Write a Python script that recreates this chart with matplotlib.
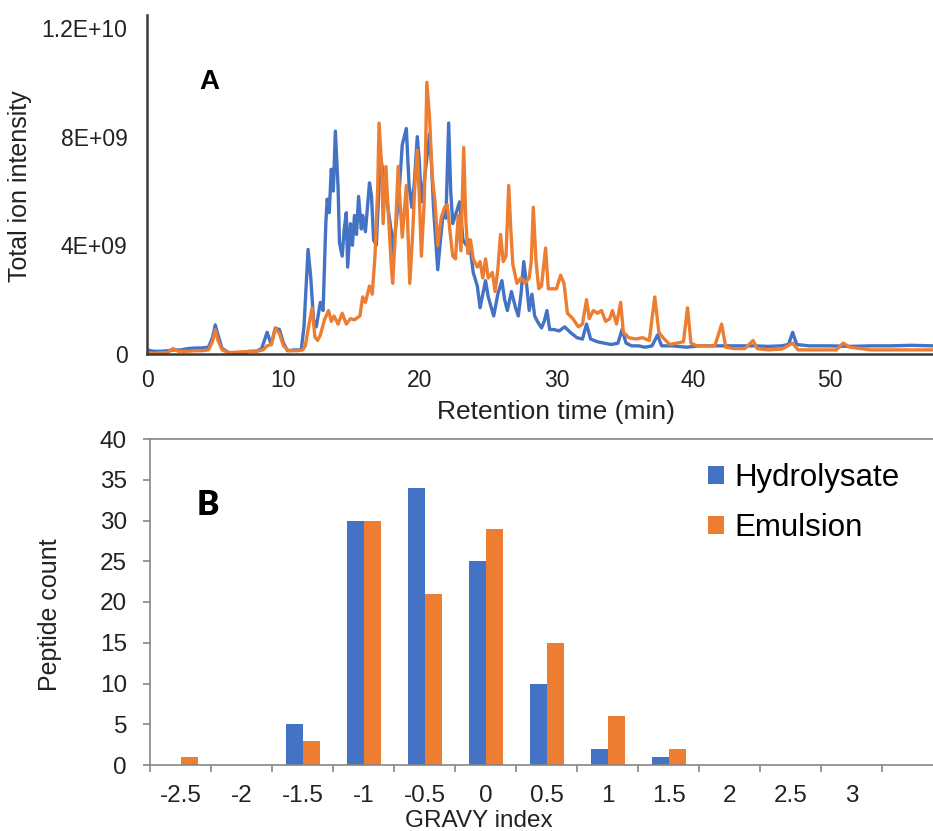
import numpy as np
import matplotlib
matplotlib.use("Agg")
import matplotlib.pyplot as plt
from matplotlib.ticker import FixedLocator, NullFormatter

# ---------------- Panel A data (retention time in min, intensity in 1E9 units) ----------------
hyd_time = [0.0, 0.5, 1.0, 1.5, 2.0, 2.5, 3.0, 3.5, 4.0, 4.5, 4.8, 5.0, 5.2, 5.5, 6.0, 6.5, 7.0, 7.5,
            8.0, 8.4, 8.8, 9.1, 9.4, 9.7, 10.0, 10.3, 10.8, 11.3, 11.5, 11.8, 12.0, 12.2, 12.4, 12.7,
            12.9, 13.1, 13.2, 13.35, 13.5, 13.65, 13.8, 14.0, 14.1, 14.3, 14.45, 14.6, 14.7, 14.9,
            15.05, 15.2, 15.35, 15.5, 15.7, 15.8, 16.0, 16.2, 16.3, 16.45, 16.6, 16.8, 17.1, 17.35,
            17.7, 17.9, 18.0, 18.25, 18.5, 18.7, 19.0, 19.2, 19.4, 19.6, 19.8, 19.95, 20.1, 20.3,
            20.5, 20.7, 20.85, 21.0, 21.3, 21.5, 21.7, 21.9, 22.1, 22.25, 22.4, 22.65, 22.9, 23.15,
            23.4, 23.6, 23.9, 24.2, 24.4, 24.8, 25.0, 25.4, 25.7, 26.0, 26.2, 26.4, 26.7, 27.0,
            27.2, 27.4, 27.6, 27.8, 28.0, 28.2, 28.4, 28.6, 28.9, 29.1, 29.3, 29.5, 29.8, 30.2,
            30.6, 31.0, 31.5, 31.9, 32.2, 32.5, 33.0, 33.5, 34.0, 34.5, 34.8, 35.1, 35.5, 36.0,
            36.5, 37.0, 37.4, 37.7, 38.5, 39.5, 40.5, 41.5, 42.5, 43.5, 44.5, 45.5, 46.5, 47.0,
            47.3, 47.6, 48.5, 50.0, 51.5, 53.0, 54.5, 56.0, 57.6]
hyd_int = [0.15, 0.1, 0.1, 0.12, 0.15, 0.15, 0.2, 0.22, 0.22, 0.25, 0.6, 1.07, 0.7, 0.2, 0.05, 0.05, 0.05, 0.1,
           0.1, 0.2, 0.8, 0.35, 0.95, 0.9, 0.4, 0.12, 0.15, 0.15, 1.0, 3.85, 2.8, 1.26, 1.0, 1.9,
           1.6, 4.8, 5.7, 5.2, 6.8, 6.0, 8.2, 6.1, 4.1, 3.6, 4.6, 5.2, 3.2, 4.8,
           4.0, 5.1, 4.4, 5.8, 4.6, 5.1, 4.5, 5.7, 6.3, 5.8, 4.2, 4.0, 7.3, 6.5,
           5.2, 4.5, 3.7, 4.8, 6.2, 7.7, 8.3, 6.2, 5.4, 6.4, 8.0, 7.1, 5.6, 6.3,
           7.2, 8.1, 6.9, 5.3, 3.1, 4.2, 5.2, 5.0, 8.5, 6.0, 4.8, 5.2, 5.6, 4.2,
           4.0, 4.2, 3.0, 2.5, 1.7, 2.7, 2.1, 1.4, 2.2, 2.7, 2.0, 1.6, 2.3, 1.7,
           1.4, 2.2, 3.4, 2.6, 1.6, 2.2, 1.4, 1.2, 0.96, 1.2, 1.6, 0.9, 0.9, 0.85,
           1.0, 0.8, 0.6, 0.55, 1.1, 0.55, 0.45, 0.4, 0.35, 0.4, 0.9, 0.4, 0.3, 0.3,
           0.25, 0.3, 0.7, 0.3, 0.3, 0.25, 0.3, 0.3, 0.3, 0.3, 0.3, 0.28, 0.3, 0.35,
           0.8, 0.35, 0.3, 0.3, 0.28, 0.3, 0.3, 0.32, 0.3]

emu_time = [0.0, 0.5, 1.0, 1.5, 1.9, 2.3, 3.0, 3.5, 4.0, 4.5, 4.8, 5.0, 5.2, 5.5, 6.0, 7.0, 8.0, 8.5,
            8.8, 9.1, 9.4, 9.7, 10.0, 10.4, 11.0, 11.4, 11.6, 11.8, 12.1, 12.3, 12.5, 12.7, 13.0,
            13.3, 13.5, 13.7, 14.0, 14.3, 14.6, 14.9, 15.2, 15.6, 15.8, 16.0, 16.3, 16.5, 16.7,
            16.9, 17.0, 17.2, 17.3, 17.5, 17.7, 17.9, 18.0, 18.2, 18.4, 18.55, 18.7, 19.0, 19.15,
            19.25, 19.45, 19.6, 19.8, 19.95, 20.1, 20.3, 20.4, 20.5, 20.7, 20.9, 21.1, 21.3, 21.55,
            21.8, 22.0, 22.2, 22.4, 22.6, 22.8, 23.0, 23.2, 23.35, 23.5, 23.7, 23.9, 24.2, 24.4,
            24.6, 24.8, 25.0, 25.3, 25.5, 25.7, 25.9, 26.1, 26.3, 26.5, 26.65, 26.8, 27.1, 27.4,
            27.7, 28.0, 28.15, 28.3, 28.5, 28.7, 28.9, 29.2, 29.4, 29.7, 30.0, 30.3, 30.55, 30.8,
            31.2, 31.6, 31.9, 32.2, 32.4, 32.7, 33.0, 33.3, 33.6, 33.9, 34.1, 34.4, 34.7, 34.9,
            35.3, 35.8, 36.3, 36.8, 37.2, 37.5, 37.8, 38.3, 38.8, 39.3, 39.6, 39.85, 40.3, 41.0,
            41.6, 42.1, 42.4, 43.0, 43.8, 44.4, 44.7, 45.5, 46.5, 47.3, 47.7, 49.0, 50.5, 51.0,
            51.5, 53.0, 55.0, 57.6]
emu_int = [0.05, 0.02, 0.05, 0.05, 0.2, 0.1, 0.1, 0.12, 0.12, 0.15, 0.45, 0.89, 0.5, 0.15, 0.05, 0.08, 0.1, 0.15,
           0.3, 0.35, 0.96, 0.75, 0.3, 0.12, 0.12, 0.15, 0.3, 0.9, 1.7, 0.63, 0.5, 0.7, 1.26,
           1.6, 1.2, 1.4, 1.1, 1.5, 1.1, 1.3, 1.26, 1.4, 2.1, 1.9, 2.5, 2.2, 3.6,
           6.1, 8.5, 6.8, 4.8, 6.9, 5.0, 3.2, 2.6, 4.5, 6.9, 5.5, 4.3, 6.2, 4.0,
           2.6, 4.3, 6.0, 7.5, 5.8, 3.6, 5.5, 7.3, 10.0, 8.7, 6.5, 5.6, 4.0, 5.0,
           5.4, 5.5, 4.5, 3.6, 3.5, 5.1, 3.8, 7.6, 5.0, 3.7, 4.2, 3.5, 3.2, 3.4,
           2.8, 3.5, 2.8, 3.0, 2.3, 3.1, 4.4, 3.4, 3.6, 6.2, 4.6, 3.3, 2.6, 2.8,
           2.6, 2.8, 3.4, 5.4, 3.4, 2.4, 2.5, 3.9, 2.4, 2.4, 2.4, 2.9, 2.6, 1.5,
           1.3, 1.0, 1.1, 2.0, 1.3, 1.6, 1.5, 1.6, 1.2, 1.3, 1.6, 1.1, 1.9, 0.8,
           0.6, 0.55, 0.6, 0.5, 2.1, 0.8, 0.6, 0.35, 0.4, 0.45, 1.7, 0.4, 0.3, 0.3,
           0.3, 1.1, 0.25, 0.2, 0.2, 0.5, 0.2, 0.15, 0.18, 0.4, 0.15, 0.15, 0.15, 0.4,
           0.25, 0.15, 0.15, 0.15]

a_yticks = [0, 4e9, 8e9, 1.2e10]
a_yticklabels = ["0", "4E+09", "8E+09", "1.2E+10"]
a_xticks = [0, 10, 20, 30, 40, 50]

# ---------------- Panel B data ----------------
gravy_labels = ["-2.5", "-2", "-1.5", "-1", "-0.5", "0", "0.5", "1", "1.5", "2", "2.5", "3"]
hydrolysate_counts = [0, 0, 5, 30, 34, 25, 10, 2, 1, 0, 0, 0]
emulsion_counts = [1, 0, 3, 30, 21, 29, 15, 6, 2, 0, 0, 0]
b_yticks = [0, 5, 10, 15, 20, 25, 30, 35, 40]

BLUE = "#4472C4"
ORANGE = "#ED7D31"
W, H = 933, 831

plt.rcParams["font.family"] = ["Liberation Sans", "DejaVu Sans"]

fig = plt.figure(figsize=(W / 100, H / 100), dpi=100)

# ---------------- Panel A ----------------
axA = fig.add_axes([147 / W, 1 - 354 / H, (W - 147) / W, (354 - 15) / H])
axA.plot(hyd_time, np.array(hyd_int) * 1e9, color=BLUE, lw=2.4, solid_joinstyle="round")
axA.plot(emu_time, np.array(emu_int) * 1e9, color=ORANGE, lw=2.4, solid_joinstyle="round")
axA.set_xlim(0, (W - 147) / 13.65)
axA.set_ylim(0, (354 - 15) / 27.17 * 1e9)
axA.set_yticks(a_yticks)
axA.set_yticklabels(a_yticklabels)
axA.set_xticks(a_xticks)
axA.tick_params(axis="both", length=0, labelsize=16.5, colors="#222222")
axA.tick_params(axis="y", pad=14)
axA.tick_params(axis="x", pad=11)
for s in ["top", "right"]:
    axA.spines[s].set_visible(False)
for s in ["left", "bottom"]:
    axA.spines[s].set_color("#3a3a3a")
    axA.spines[s].set_linewidth(1.8)
axA.set_xlabel("Retention time (min)", fontsize=19, color="#222222")
axA.xaxis.set_label_coords((556 - 147) / (W - 147), -(412 - 354) / (354 - 15))
axA.xaxis.label.set_va("center")
axA.set_ylabel("Total ion intensity", fontsize=18, color="#222222")
axA.yaxis.set_label_coords((20 - 147) / (W - 147), (354 - 186) / (354 - 15))
axA.yaxis.label.set_va("center")
fig.text(209 / W, 1 - 82 / H, "A", fontsize=20, fontweight="bold", ha="center", va="center",
         family=["Liberation Sans", "DejaVu Sans"])

# ---------------- Panel B ----------------
axB = fig.add_axes([150 / W, 1 - 765 / H, (W - 150) / W, (765 - 439) / H])
x = np.arange(len(gravy_labels))
bw = 17 / 61
axB.bar(x - bw / 2, hydrolysate_counts, width=bw, color=BLUE, label="Hydrolysate")
axB.bar(x + bw / 2, emulsion_counts, width=bw, color=ORANGE, label="Emulsion")
axB.set_xlim(-0.5, (W - 150) / 61 - 0.5)
axB.set_ylim(0, 40)
axB.set_yticks(b_yticks)
axB.xaxis.set_major_locator(FixedLocator(np.arange(len(gravy_labels) + 1) - 0.5))
axB.xaxis.set_major_formatter(NullFormatter())
axB.xaxis.set_minor_locator(FixedLocator(x))
axB.set_xticklabels(gravy_labels, minor=True)
axB.tick_params(axis="x", which="major", length=5, width=1.2, color="#868686", direction="out")
axB.tick_params(axis="x", which="minor", length=0, labelsize=17.5, pad=14.5, colors="#222222")
axB.tick_params(axis="y", length=5, width=1.2, color="#868686", labelsize=17.5, pad=11.5,
                labelcolor="#222222")
axB.spines["right"].set_visible(False)
for s in ["left", "bottom", "top"]:
    axB.spines[s].set_color("#868686")
    axB.spines[s].set_linewidth(1.2)
axB.set_xlabel("GRAVY index", fontsize=17.5, color="#222222")
axB.xaxis.set_label_coords((479 - 150) / (W - 150), -(821 - 765) / (765 - 439))
axB.xaxis.label.set_va("center")
axB.set_ylabel("Peptide count", fontsize=18, color="#222222")
axB.yaxis.set_label_coords((50 - 150) / (W - 150), (765 - 615) / (765 - 439))
axB.yaxis.label.set_va("center")
fig.text(208 / W, 1 - 505 / H, "B", fontsize=24, fontweight="heavy", ha="center", va="center",
         family=["Lato", "DejaVu Sans"])
leg = axB.legend(loc="upper left", bbox_to_anchor=(708 / W, 1 - 463 / H), bbox_transform=fig.transFigure,
                 frameon=False, fontsize=22.5, handlelength=0.5, handleheight=0.5,
                 handletextpad=0.35, labelspacing=0.64, borderpad=0, borderaxespad=0)

fig.savefig("out.png", dpi=100)
